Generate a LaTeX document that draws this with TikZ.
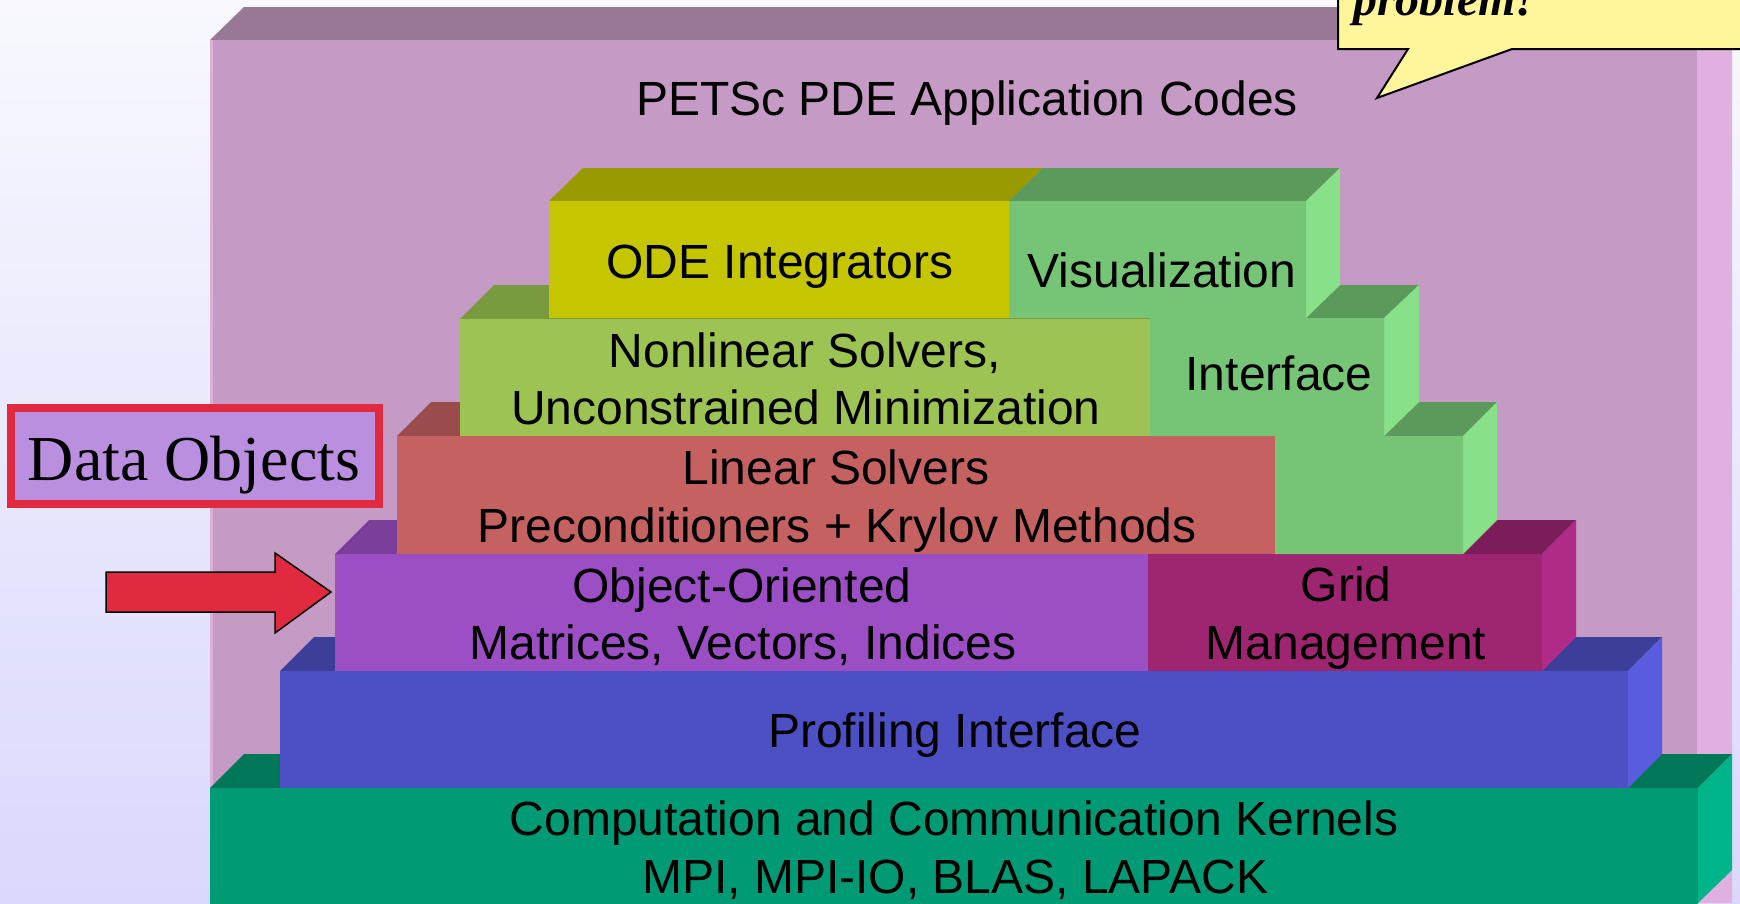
\documentclass[tikz,border=0pt]{standalone}
\usepackage{fontspec}
\setmainfont{Liberation Sans}
\newfontfamily\timesfont{Liberation Serif}
\definecolor{bgtop}{HTML}{F8F8FE}
\definecolor{bgbot}{HTML}{DAD8FC}
\definecolor{appF}{HTML}{C59AC4}
\definecolor{appT}{HTML}{997896}
\definecolor{appS}{HTML}{E0B0E0}
\definecolor{appE}{HTML}{D8B0D8}
\definecolor{odeF}{HTML}{C6C600}
\definecolor{odeT}{HTML}{999900}
\definecolor{visF}{HTML}{76C576}
\definecolor{visT}{HTML}{5C9A5C}
\definecolor{visS}{HTML}{88E088}
\definecolor{nlF}{HTML}{9DC452}
\definecolor{nlT}{HTML}{7A9A40}
\definecolor{linF}{HTML}{C56161}
\definecolor{linT}{HTML}{9A4C4C}
\definecolor{ooF}{HTML}{9C4EC4}
\definecolor{ooT}{HTML}{7A3D9A}
\definecolor{grF}{HTML}{9E2570}
\definecolor{grT}{HTML}{7A1D5A}
\definecolor{grS}{HTML}{B02A88}
\definecolor{prF}{HTML}{4D4FC4}
\definecolor{prT}{HTML}{3C3E9A}
\definecolor{prS}{HTML}{5A5CE0}
\definecolor{kF}{HTML}{009B75}
\definecolor{kT}{HTML}{007858}
\definecolor{kS}{HTML}{00B489}
\definecolor{doFill}{HTML}{BB8FE0}
\definecolor{doRed}{HTML}{E12A40}
\definecolor{callY}{HTML}{FFF59A}
\tikzset{
  lbl/.style={inner sep=0pt, anchor=base, font=\fontsize{48}{57}\selectfont, text=black},
  face/.style={draw=none}
}
\begin{document}
\begin{tikzpicture}[x=1pt,y=-1pt]
\useasboundingbox (0,0) rectangle (1740,903);
\clip (0,0) rectangle (1740,903);
% background
\shade[top color=bgtop, bottom color=bgbot] (0,0) rectangle (1740,903);
% application box
\fill[appT] (210,40) -- (244,7) -- (1732,7) -- (1697,40) -- cycle;
\fill[appS] (1697,40) -- (1732,7) -- (1732,903) -- (1697,903) -- cycle;
\fill[appF] (210,40) rectangle (1697,903);
\fill[appE] (210,40) rectangle (213,903);
% callout
\filldraw[fill=callY, draw=black, line width=2pt, line join=miter]
  (1338,-20) -- (1338,49) -- (1408,49) -- (1377,98) -- (1512,49) -- (1760,49) -- (1760,-20) -- cycle;
\node[inner sep=0pt, anchor=base west, font=\timesfont\bfseries\itshape\fontsize{48}{57}\selectfont] (prob) at (1353,15) {problem!};
\node[lbl] (app) at (967,115) {PETSc PDE Application Codes};
% kernels
\fill[kT] (210,788) -- (244,754) -- (1732,754) -- (1698,788) -- cycle;
\fill[kS] (1698,788) -- (1732,754) -- (1732,870) -- (1698,903) -- cycle;
\fill[kF] (210,788) rectangle (1698,910);
% profiling
\fill[prT] (280,671) -- (314,637) -- (1662,637) -- (1628,671) -- cycle;
\fill[prS] (1628,671) -- (1662,637) -- (1662,754) -- (1628,788) -- cycle;
\fill[prF] (280,671) rectangle (1628,788);
% object oriented + grid
\fill[ooT] (335,554) -- (369,520) -- (1182,520) -- (1148,554) -- cycle;
\fill[grT] (1148,554) -- (1182,520) -- (1576,520) -- (1542,554) -- cycle;
\fill[grS] (1542,554) -- (1576,520) -- (1576,637) -- (1542,671) -- cycle;
\fill[ooF] (335,554) rectangle (1148,671);
\fill[grF] (1148,554) rectangle (1542,671);
% linear
\fill[linT] (397,436) -- (431,402) -- (1309,402) -- (1275,436) -- cycle;
\fill[linF] (397,436) rectangle (1275,554);
% nonlinear
\fill[nlT] (460,319) -- (494,285) -- (1184,285) -- (1150,319) -- cycle;
\fill[nlF] (460,319) rectangle (1150,436);
% ODE
\fill[odeT] (549,201) -- (583,168) -- (1043,168) -- (1009,201) -- cycle;
\fill[odeF] (549,201) rectangle (1009,318);
% visualization column
\fill[visT] (1009,201) -- (1043,168) -- (1340,168) -- (1306,201) -- cycle;
\fill[visT] (1306,318) -- (1340,285) -- (1419,285) -- (1384,318) -- cycle;
\fill[visT] (1384,436) -- (1419,402) -- (1497,402) -- (1463,436) -- cycle;
\fill[visS] (1306,201) -- (1340,168) -- (1340,285) -- (1306,318) -- cycle;
\fill[visS] (1384,318) -- (1419,285) -- (1419,402) -- (1384,436) -- cycle;
\fill[visS] (1463,436) -- (1497,402) -- (1497,520) -- (1463,554) -- cycle;
\fill[visF] (1009,201) -- (1306,201) -- (1306,318) -- (1384,318) -- (1384,436) -- (1463,436) -- (1463,554) -- (1275,554) -- (1275,436) -- (1150,436) -- (1150,318) -- (1009,318) -- cycle;
% labels
\node[lbl] (ode) at (780,278) {ODE Integrators};
\node[lbl] (vis) at (1162,287) {Visualization};
\node[lbl] (nl1) at (805,367) {Nonlinear Solvers,};
\node[lbl] (nl2) at (806,424) {Unconstrained Minimization};
\node[lbl] (intf) at (1279,390) {Interface};
\node[lbl] (lin1) at (836,484) {Linear Solvers};
\node[lbl] (lin2) at (837,542) {Preconditioners + Krylov Methods};
\node[lbl] (oo1) at (742,602) {Object-Oriented};
\node[lbl] (oo2) at (743,659) {Matrices, Vectors, Indices};
\node[lbl] (gr1) at (1346,601) {Grid};
\node[lbl] (gr2) at (1346,659) {Management};
\node[lbl] (prof) at (955,747) {Profiling Interface};
\node[lbl] (k1) at (954,835) {Computation and Communication Kernels};
\node[lbl] (k2) at (955,893) {MPI, MPI-IO, BLAS, LAPACK};
% data objects
\draw[fill=doFill, draw=doRed, line width=8pt] (11,408) rectangle (379,504);
\node[inner sep=0pt, anchor=base, font=\timesfont\fontsize{64}{70}\selectfont] (dobj) at (194,480) {Data Objects};
% arrow
\filldraw[fill=doRed, draw=black, line width=1.5pt, line join=miter]
  (106,572) -- (275,572) -- (275,553) -- (331,592) -- (275,633) -- (275,612) -- (106,612) -- cycle;
\end{tikzpicture}
\end{document}
